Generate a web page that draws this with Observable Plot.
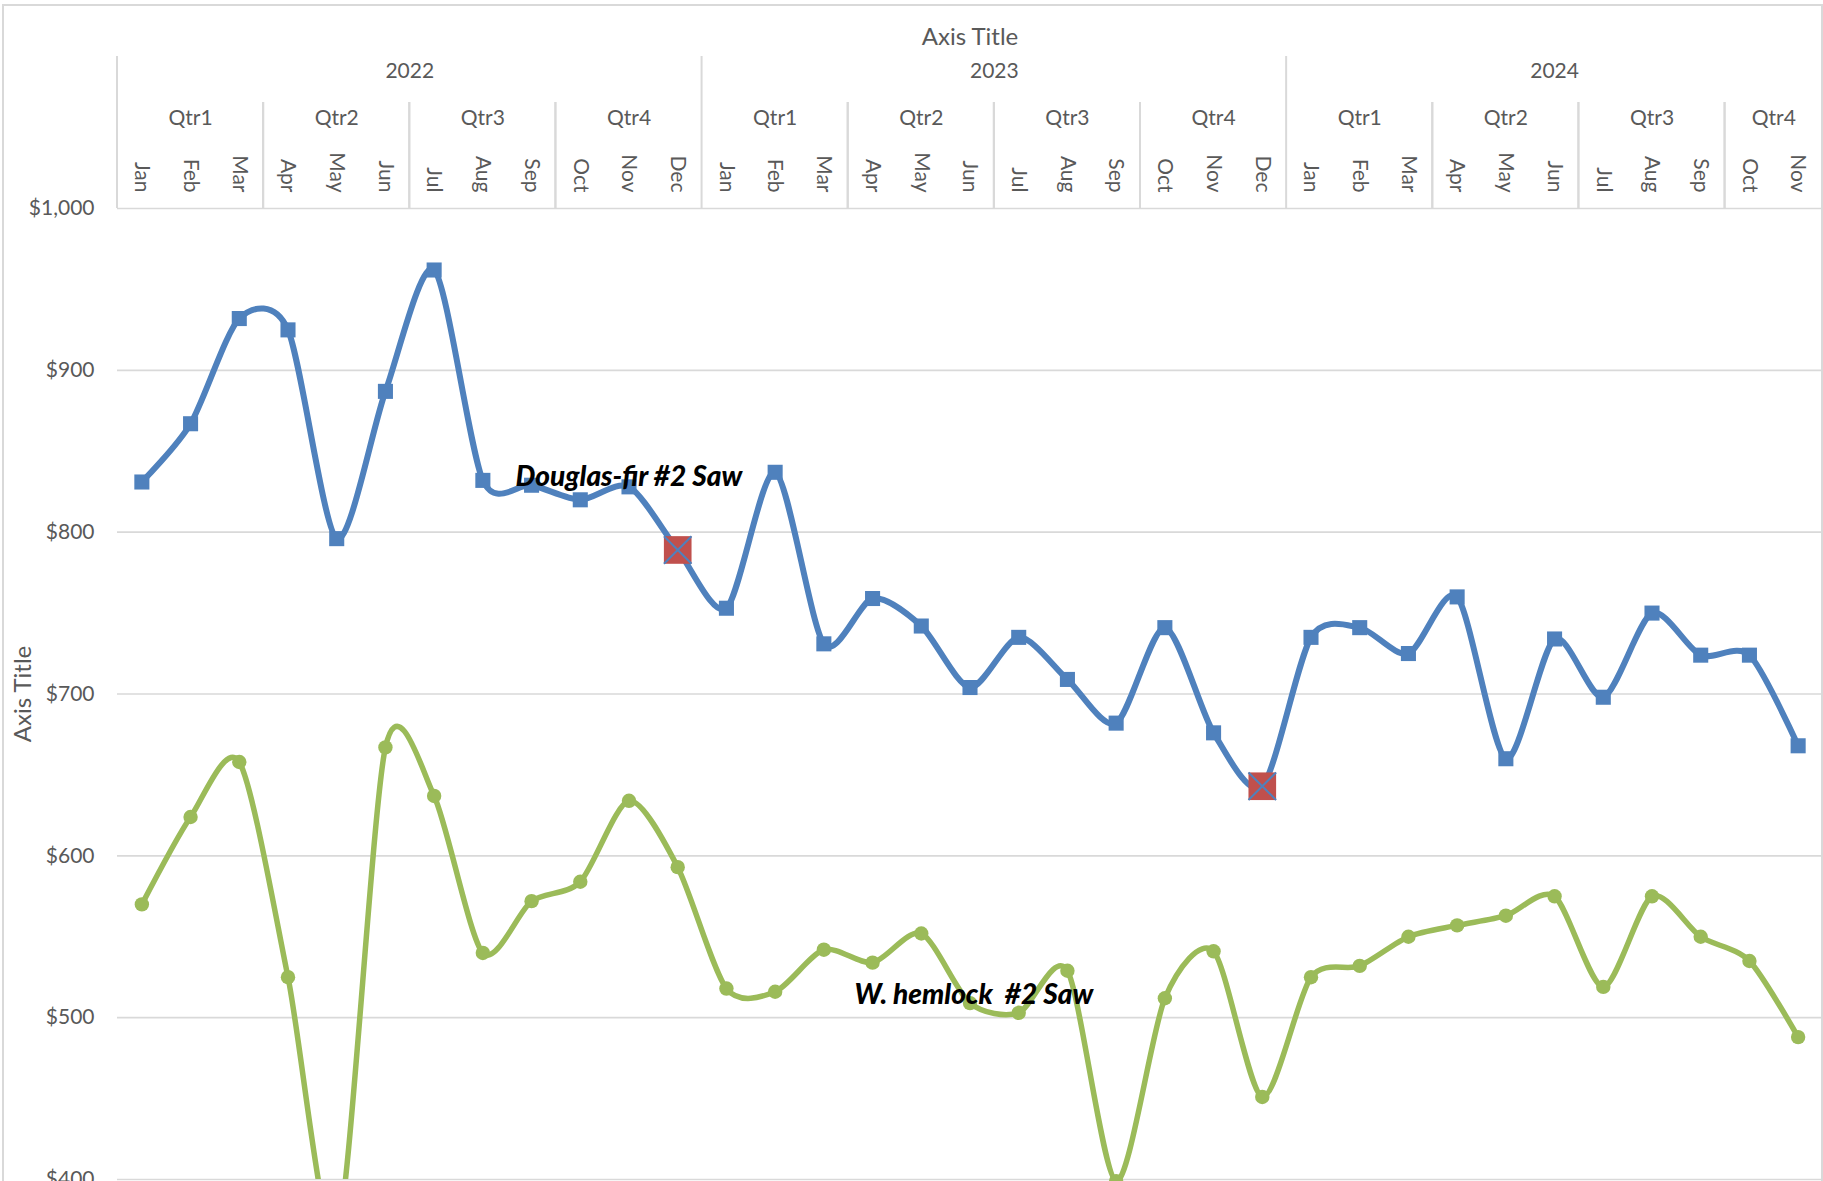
<!DOCTYPE html>
<html>
<head>
<meta charset="utf-8">
<script src="https://cdn.jsdelivr.net/npm/d3@7"></script>
<script src="https://cdn.jsdelivr.net/npm/@observablehq/plot@0.6"></script>
<style>
  body { margin: 0; background: #fff; overflow: hidden; }
  #wrap { position: relative; width: 1823px; height: 1181px; overflow: hidden; background: #fff; }
  #border { position: absolute; left: 2px; top: 4px; width: 1821px; height: 1300px; border: 2px solid #d9d9d9; box-sizing: border-box; pointer-events: none; }
</style>
</head>
<body>
<div id="wrap"><div id="border"></div></div>
<script>
// ---- data ----
const months = ["Jan","Feb","Mar","Apr","May","Jun","Jul","Aug","Sep","Oct","Nov","Dec"];
const years = ["2022","2023","2024"];
const quarters = ["Qtr1","Qtr2","Qtr3","Qtr4"];
const douglasFir = [831, 867, 932, 925, 796, 887, 962, 832, 829, 820, 828, 789,
                    753, 837, 731, 759, 742, 704, 735, 709, 682, 741, 676, 643,
                    735, 741, 725, 760, 660, 734, 698, 750, 724, 724, 668];
const hemlock = [570, 624, 658, 525, 365, 667, 637, 540, 572, 584, 634, 593,
                 518, 516, 542, 534, 552, 509, 503, 529, 399, 512, 541, 451,
                 525, 532, 550, 557, 563, 575, 519, 575, 550, 535, 488];
const highlightMonths = [11, 23];           // Dec 2022, Dec 2023 (Douglas-fir)
const yTicks = [400, 500, 600, 700, 800, 900, 1000];
const labelText = ["Douglas-fir #2 Saw", "W. hemlock\u00a0 #2 Saw"];
const labelAt = [7.67, 14.63];              // month position of label start
const labelValue = [834, 514];              // price level of label

// ---- derived tables ----
const rows = douglasFir.map((v, i) => ({
  i, month: months[i % 12], year: years[Math.floor(i / 12)],
  quarter: quarters[Math.floor((i % 12) / 3)], df: v, wh: hemlock[i]
}));
const yearKey = d => d.year;
const quarterKey = d => d.year + d.quarter;
const group = key => d3.groups(rows, key).map(([k, v]) => ({
  label: key === yearKey ? v[0].year : v[0].quarter,
  center: d3.mean(v, d => d.i),
  start: d3.min(v, d => d.i) - 0.5,
  end: d3.max(v, d => d.i) + 0.5
}));
const yearGroups = group(yearKey);
const quarterGroups = group(quarterKey);
const highlights = rows.filter(d => highlightMonths.includes(d.i));
const labels = labelText.map((t, k) => ({text: t, at: labelAt[k], value: labelValue[k]}));

const BLUE = "#4F81BD", GREEN = "#9BBB59", RED = "#C0504D", GRID = "#d9d9d9", TXT = "#595959";
const FONT = "Lato, 'Open Sans', sans-serif";

function headerDividers(index, scales, values, dims) {
  const g = d3.create("svg:g").attr("stroke", GRID).attr("stroke-width", 2);
  const top = dims.marginTop;
  const yearEdges = new Set();
  for (const y of yearGroups) { yearEdges.add(y.start); yearEdges.add(y.end); }
  for (const e of yearEdges) {
    const x = scales.x(e);
    g.append("line").attr("x1", x).attr("x2", x).attr("y1", top - 152).attr("y2", top);
  }
  for (const q of quarterGroups) for (const e of [q.start, q.end]) {
    if (yearEdges.has(e)) continue;
    const x = scales.x(e);
    g.append("line").attr("x1", x).attr("x2", x).attr("y1", top - 106).attr("y2", top);
  }
  return g.node();
}

const plot = Plot.plot({
  width: 1823,
  height: 1181,
  marginTop: 208,
  marginLeft: 117,
  marginRight: 1,
  marginBottom: 2,
  style: {fontFamily: FONT, fontSize: "21px", color: TXT, background: "transparent", overflow: "hidden"},
  x: {domain: [-0.5, 34.5]},
  y: {domain: [400, 1000]},
  marks: [
    Plot.gridY({ticks: yTicks, stroke: GRID, strokeOpacity: 1, strokeWidth: 1.6}),
    headerDividers,
    Plot.axisY({ticks: yTicks, tickFormat: d => "$" + d3.format(",")(d), tickSize: 0, tickPadding: 23,
                fontSize: 21, fill: TXT, label: null}),
    Plot.axisX({anchor: "top", ticks: rows.map(d => d.i), tickFormat: i => rows[i].month,
                tickSize: 0, tickPadding: 16, tickRotate: 90, textAnchor: "end", lineAnchor: "middle",
                fontSize: 21, fill: TXT, label: null}),
    Plot.text(quarterGroups, {x: "center", text: "label", frameAnchor: "top", dy: -98, fontSize: 21, fill: TXT}),
    Plot.text(yearGroups, {x: "center", text: "label", frameAnchor: "top", dy: -145, fontSize: 21, fill: TXT}),
    Plot.text(["Axis Title"], {frameAnchor: "top", dy: -181, fontSize: 24, fill: TXT}),
    Plot.text(["Axis Title"], {frameAnchor: "left", dx: -94, rotate: -90, textAnchor: "middle", fontSize: 24, fill: TXT}),
    Plot.line(rows, {x: "i", y: "df", stroke: BLUE, strokeWidth: 6, curve: "cardinal", tension: 0.2, clip: true}),
    Plot.dot(rows, {x: "i", y: "df", symbol: "square", r: 8.5, fill: BLUE}),
    Plot.line(rows, {x: "i", y: "wh", stroke: GREEN, strokeWidth: 5.5, curve: "cardinal", tension: 0.2, clip: true}),
    Plot.dot(rows, {x: "i", y: "wh", r: 7.2, fill: GREEN}),
    Plot.dot(highlights, {x: "i", y: "df", symbol: "square", r: 15.6, fill: RED}),
    Plot.dot(highlights, {x: "i", y: "df", symbol: "times", r: 12.6, stroke: BLUE, strokeWidth: 2}),
    Plot.text(labels, {x: "at", y: "value", text: "text", textAnchor: "start", fontSize: 28,
                       fontWeight: 900, fontStyle: "italic", fill: "black", ariaLabel: "series-label"})
  ]
});
plot.style.position = "absolute";
plot.style.left = "0px";
plot.style.top = "0px";
plot.querySelectorAll('g[aria-label="series-label"]').forEach(g => {
  g.style.filter = "drop-shadow(4px 6px 3px rgba(0,0,0,0.45))";
});
document.getElementById("wrap").appendChild(plot);
</script>
</body>
</html>
